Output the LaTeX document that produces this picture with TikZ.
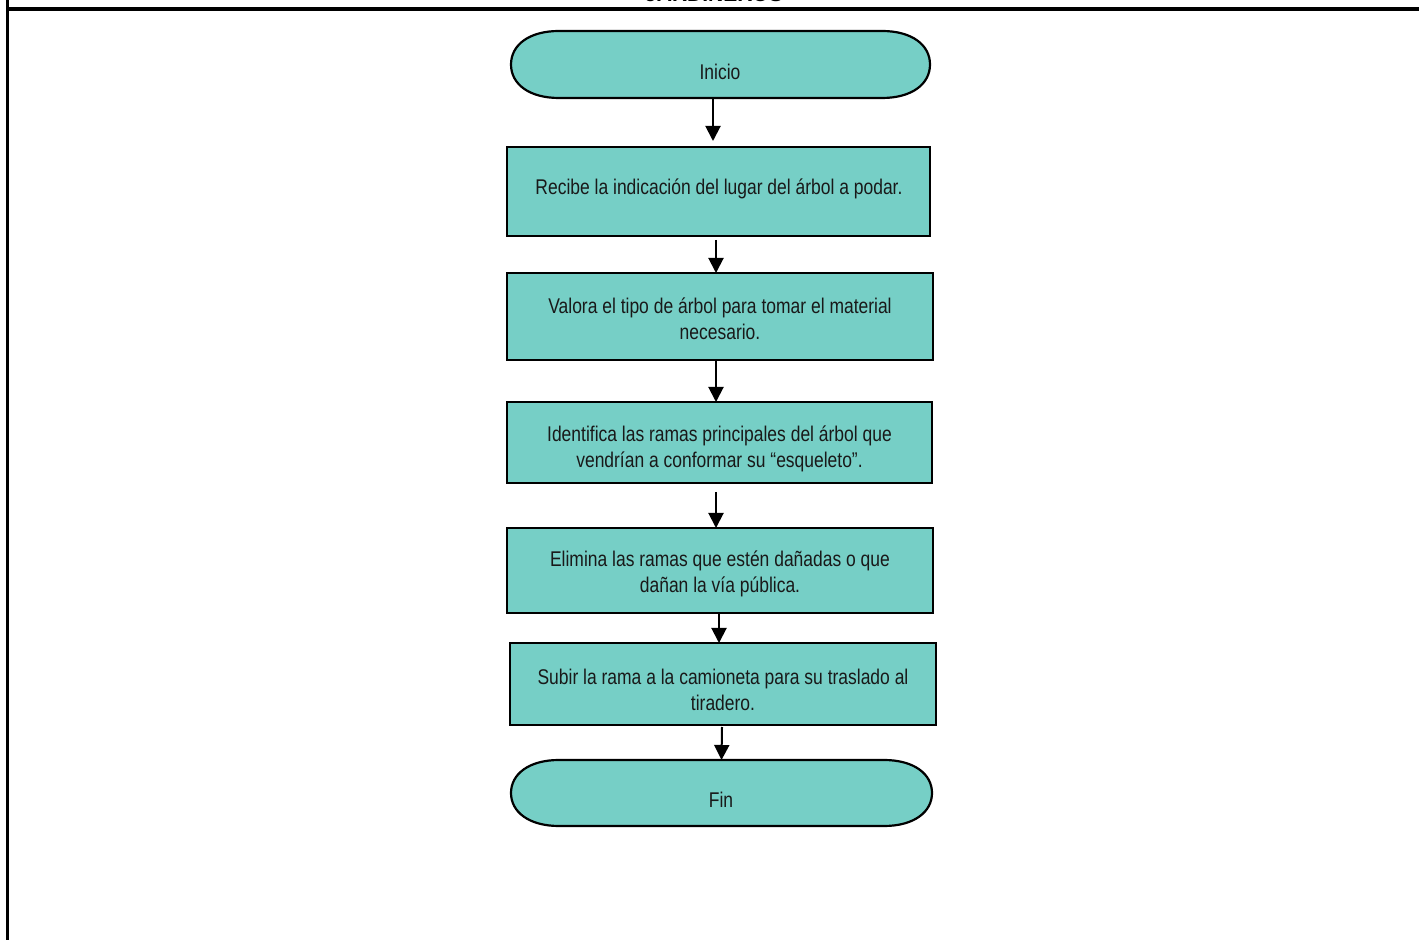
\documentclass[tikz,border=0pt]{standalone}
\usepackage{fontspec}
\setmainfont{Liberation Sans}[FakeStretch=0.82]
\newfontfamily\titlefont{Liberation Sans}
\usetikzlibrary{arrows.meta}
\definecolor{tealfill}{RGB}{118,207,198}
\tikzset{
  procbox/.style={draw=black, line width=1.1pt, fill=tealfill, align=center, inner sep=0pt},
  flowarrow/.style={draw=black, line width=1pt, -{Triangle[width=7.5pt,length=7.5pt]}},
  frameline/.style={draw=black, line width=1.5pt},
  txt/.style={font=\fontsize{10.65pt}{13pt}\selectfont, text=black!90, align=center}
}
\newcommand{\terminator}[5]{% left, top, right, bottom, name
  \draw[line width=1.1pt, fill=tealfill]
    (#1+48,#2) -- (#3-48,#2)
    .. controls (#3-18,#2) and (#3,#2+14) .. (#3,#2/2+#4/2)
    .. controls (#3,#4-14) and (#3-18,#4) .. (#3-48,#4)
    -- (#1+48,#4)
    .. controls (#1+18,#4) and (#1,#4-14) .. (#1,#2/2+#4/2)
    .. controls (#1,#2+14) and (#1+18,#2) .. (#1+48,#2) -- cycle;
  \coordinate (#5) at (#1/2+#3/2,#2/2+#4/2);
  \coordinate (#5-n) at (#1/2+#3/2,#2);
  \coordinate (#5-s) at (#1/2+#3/2,#4);
}
\begin{document}
\begin{tikzpicture}[x=0.5pt,y=-0.5pt]
\useasboundingbox (0,0) rectangle (1419,940);
% frame
\coordinate (fl) at (7,0);
\coordinate (flb) at (7,940);
\coordinate (ft) at (7,9);
\coordinate (ftr) at (1419,9);
\draw[frameline] (fl) -- (flb);
\draw[line width=1.6pt] (ft) -- (ftr);
\node[anchor=base, font=\titlefont\bfseries\fontsize{10.5pt}{12pt}\selectfont, inner sep=0pt] (title) at (714,2) {JARDINEROS};
% terminators
\terminator{511}{31}{930}{98}{ini}
\node[txt] (inil) at (720,72) {Inicio};
\terminator{511}{760}{932}{826}{fin}
\node[txt] (finl) at (721,800) {Fin};
% process boxes
\path[procbox] (507,147) rectangle (930,236);
\coordinate (b1-s) at (716,240);
\node[txt] (b1) at (719,189) {Recibe la indicación del lugar del árbol a podar.};
\path[procbox] (507,273) rectangle (933,360);
\coordinate (b2-n) at (716,273); \coordinate (b2-s) at (716,360);
\node[txt] (b2) at (720,318.5) {Valora el tipo de árbol para tomar el material\\necesario.};
\path[procbox] (507,402) rectangle (932,483);
\coordinate (b3-n) at (716,402); \coordinate (b3-s) at (716,492);
\node[txt] (b3) at (719.5,448.5) {Identifica las ramas principales del árbol que\\vendrían a conformar su “esqueleto”.};
\path[procbox] (507,528) rectangle (933,613);
\coordinate (b4-n) at (716,528); \coordinate (b4-s) at (719,613);
\node[txt] (b4) at (720,573.5) {Elimina las ramas que estén dañadas o que\\dañan la vía pública.};
\path[procbox] (510,643) rectangle (936,725);
\coordinate (b5-n) at (719,643); \coordinate (b5-s) at (722,727);
\node[txt] (b5) at (723,689.5) {Subir la rama a la camioneta para su traslado al\\tiradero.};
% arrows
\coordinate (a0) at (713,98);
\coordinate (b1-n) at (713,141);
\draw[flowarrow] (a0) -- (b1-n);
\draw[flowarrow] (b1-s) -- (b2-n);
\draw[flowarrow] (b2-s) -- (b3-n);
\draw[flowarrow] (b3-s) -- (b4-n);
\draw[flowarrow] (b4-s) -- (b5-n);
\draw[flowarrow] (b5-s) -- (fin-n);
\end{tikzpicture}
\end{document}
